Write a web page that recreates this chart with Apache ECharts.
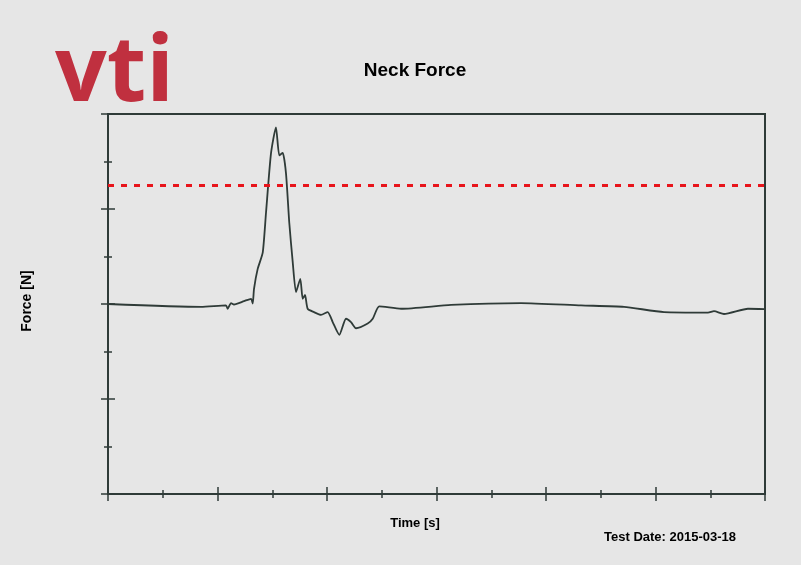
<!DOCTYPE html>
<html><head><meta charset="utf-8">
<script src="https://cdn.jsdelivr.net/npm/echarts@6/dist/echarts.min.js"></script>
<style>html,body{margin:0;padding:0;background:#e6e6e6}#c{width:801px;height:565px}</style>
</head><body><div id="c"></div>
<script>
const timeS = [0,0.170,0.2155,0.2186,0.2247,0.2301,0.2484,0.2612,0.2643,0.2667,0.2734,0.2826,0.2886,0.2977,0.3068,0.3129,0.3191,0.3251,0.3311,0.3374,0.3434,0.3512,0.3556,0.3598,0.3647,0.3763,0.3890,0.4013,0.4104,0.4225,0.4347,0.4438,0.4530,0.4743,0.4835,0.4955,0.5352,0.6265,0.7543,0.8639,0.9425,1.0155,1.0959,1.1068,1.1251,1.1689,1.2];
const forceN = [0,-0.06,-0.03,-0.10,0.02,-0.01,0.06,0.11,0.01,0.32,0.74,1.08,1.92,3.17,3.72,3.13,3.18,2.75,1.71,0.88,0.25,0.53,0.11,0.19,-0.10,-0.17,-0.23,-0.17,-0.38,-0.65,-0.31,-0.38,-0.51,-0.41,-0.31,-0.05,-0.10,-0.02,0.02,-0.03,-0.06,-0.17,-0.18,-0.15,-0.21,-0.10,-0.11];
const limitN = 2.5;
const titleText = 'Neck Force';
const xName = 'Time [s]';
const yName = 'Force [N]';
const dateText = 'Test Date: 2015-03-18';

const ink = '#2f3b38';
const G = {left:108,right:36,top:114,bottom:71};
const chart = echarts.init(document.getElementById('c'));
const tickCommon = (inside) => ({
  axisTick:{show:true,inside:inside,length:7,lineStyle:{color:ink,width:1.5}},
  minorTick:{show:true,splitNumber:2,length:4,lineStyle:{color:ink,width:1.5}},
  axisLabel:{show:false}, splitLine:{show:false}
});
chart.setOption({
  backgroundColor:'#e6e6e6',
  animation:false,
  grid:[
    Object.assign({show:true,borderColor:ink,borderWidth:2,backgroundColor:'transparent'},G),
    Object.assign({show:false},G)
  ],
  xAxis:[
    Object.assign({gridIndex:0,type:'value',min:0,max:1.2,interval:0.2,position:'bottom',
      axisLine:{show:true,onZero:false,lineStyle:{color:ink,width:2}}},tickCommon(false)),
    Object.assign({gridIndex:1,type:'value',min:0,max:1.2,interval:0.2,position:'bottom',
      axisLine:{show:false,onZero:false}},tickCommon(true))
  ],
  yAxis:[
    Object.assign({gridIndex:0,type:'value',min:-4,max:4,interval:2,position:'left',
      axisLine:{show:true,onZero:false,lineStyle:{color:ink,width:2}}},tickCommon(false)),
    Object.assign({gridIndex:1,type:'value',min:-4,max:4,interval:2,position:'left',
      axisLine:{show:false,onZero:false}},tickCommon(true))
  ],
  series:[{
    type:'line', xAxisIndex:0, yAxisIndex:0,
    data:timeS.map((t,i)=>[t,forceN[i]]), symbol:'none', smooth:0.2,
    lineStyle:{color:ink,width:1.8},
    markLine:{symbol:'none',silent:true,label:{show:false},
      lineStyle:{color:'#e8141b',width:3,type:[6,7]},
      data:[{yAxis:limitN}]}
  }],
  graphic:[
    {type:'text',x:55,y:30,style:{text:'vti',font:'bold 91px "Open Sans"',fill:'#c0303f',verticalAlign:'top'}},
    {type:'text',x:415,y:71,style:{text:titleText,font:'bold 19px "Liberation Sans", Arial',fill:'#000',align:'center',verticalAlign:'middle'}},
    {type:'text',x:415,y:523,style:{text:xName,font:'bold 13px "Liberation Sans", Arial',fill:'#000',align:'center',verticalAlign:'middle'}},
    {type:'text',x:27,y:301,rotation:Math.PI/2,style:{text:yName,font:'bold 14px "Liberation Sans", Arial',fill:'#000',align:'center',verticalAlign:'middle'}},
    {type:'text',x:670,y:537,style:{text:dateText,font:'bold 13px "Liberation Sans", Arial',fill:'#000',align:'center',verticalAlign:'middle'}}
  ]
});
</script></body></html>
